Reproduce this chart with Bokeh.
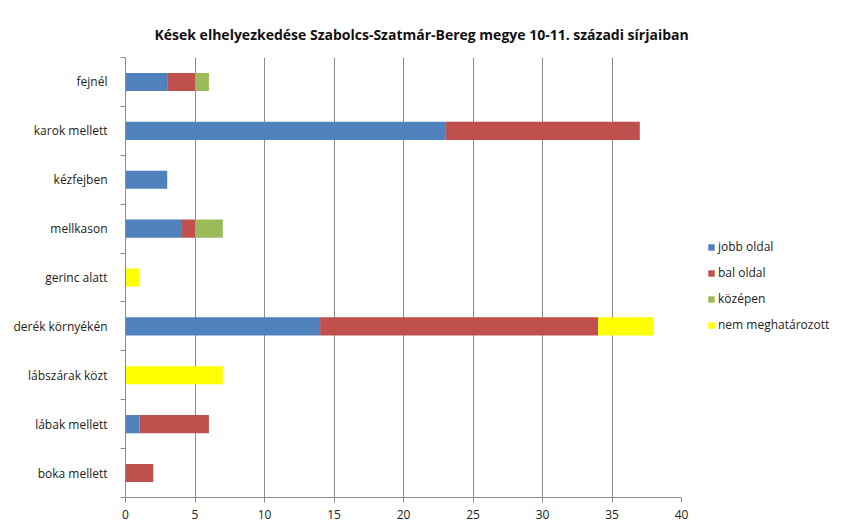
from bokeh.plotting import figure
from bokeh.models import ColumnDataSource, Range1d, FixedTicker, Legend, LegendItem
from bokeh.embed import file_html
from bokeh.resources import INLINE

categories = ["fejnél", "karok mellett", "kézfejben", "mellkason", "gerinc alatt",
              "derék környékén", "lábszárak közt", "lábak mellett", "boka mellett"]
jobb_oldal = [3, 23, 3, 4, 0, 14, 0, 1, 0]
bal_oldal = [2, 14, 0, 1, 0, 20, 0, 5, 2]
kozepen = [1, 0, 0, 2, 0, 0, 0, 0, 0]
nem_meghatarozott = [0, 0, 0, 0, 1, 4, 7, 0, 0]
series_names = ["jobb oldal", "bal oldal", "középen", "nem meghatározott"]
x_ticks = [0, 5, 10, 15, 20, 25, 30, 35, 40]
title_text = "Kések elhelyezkedése Szabolcs-Szatmár-Bereg megye 10-11. századi sírjaiban"

colors = ["#4F81BD", "#C0504D", "#9BBB59", "#FFFF00"]
font = "Open Sans"
grid_color = "#8c8c8c"

n = len(categories)
centers = [i + 0.5 for i in range(n)]
source = ColumnDataSource(dict(y=centers, jobb=jobb_oldal, bal=bal_oldal,
                               kozep=kozepen, nem=nem_meghatarozott))

p = figure(frame_width=556, frame_height=440, output_backend="svg", toolbar_location=None,
           x_range=Range1d(0, 40), y_range=Range1d(n, 0),
           min_border_left=125, min_border_top=57, min_border_right=10,
           min_border_bottom=25)
p.title.text = title_text
p.title.align = "left"
p.title.offset = 29
p.title.text_font = font
p.title.text_font_size = "14px"
p.title.text_font_style = "bold"
p.title.text_color = "#111111"
p.title.standoff = 28

renderers = p.hbar_stack(["jobb", "bal", "kozep", "nem"], y="y", height=0.37,
                         color=colors, source=source, line_width=0)

p.outline_line_color = None
p.background_fill_color = "white"
p.border_fill_color = "white"

p.xaxis.ticker = FixedTicker(ticks=x_ticks)
p.xgrid.ticker = FixedTicker(ticks=x_ticks)
p.xgrid.grid_line_color = grid_color
p.xgrid.grid_line_width = 1
p.ygrid.visible = False

p.xaxis.axis_line_color = grid_color
p.xaxis.major_tick_line_color = grid_color
p.xaxis.major_tick_out = 5
p.xaxis.major_tick_in = 0
p.xaxis.minor_tick_line_color = None
p.xaxis.major_label_standoff = 7
p.xaxis.major_label_text_font = font
p.xaxis.major_label_text_font_size = "12px"
p.xaxis.major_label_text_color = "#222222"

p.yaxis.ticker = FixedTicker(ticks=centers, minor_ticks=list(range(n + 1)))
p.yaxis.major_label_overrides = {c: lab for c, lab in zip(centers, categories)}
p.yaxis.axis_line_color = grid_color
p.yaxis.major_tick_line_color = None
p.yaxis.major_tick_out = 0
p.yaxis.major_tick_in = 0
p.yaxis.minor_tick_line_color = grid_color
p.yaxis.minor_tick_out = 5
p.yaxis.minor_tick_in = 0
p.yaxis.major_label_standoff = 13
p.yaxis.major_label_text_font = font
p.yaxis.major_label_text_font_size = "12px"
p.yaxis.major_label_text_color = "#222222"

items = [LegendItem(label=name, renderers=[r]) for name, r in zip(series_names, renderers)]
legend = Legend(items=items, location=(26, 164), orientation="vertical",
                glyph_width=8, glyph_height=8, label_text_font=font,
                label_text_font_size="12px", label_text_color="#222222",
                label_height=14, spacing=9, label_standoff=3,
                border_line_color=None, background_fill_alpha=0, padding=0, margin=0)
p.add_layout(legend, "right")

open("out.html", "w").write(file_html(p, INLINE))
